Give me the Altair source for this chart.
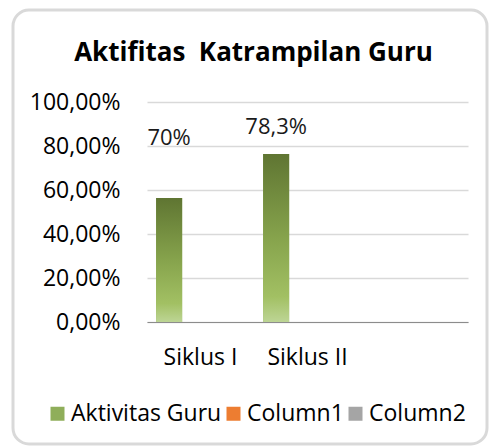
import altair as alt
import pandas as pd

# ---- data ----
categories = ["Siklus I", "Siklus II", " "]
series = ["Aktivitas Guru", "Column1", "Column2"]
series_colors = ["#8fae5a", "#ed7d31", "#a5a5a5"]
values = [0.564, 0.764]
label_text = ["70%", "78,3%"]
label_pos = [0.836, 0.886]
y_ticks = [0, 0.2, 0.4, 0.6, 0.8, 1.0]
title_text = "Aktifitas\u00a0 Katrampilan Guru"

df = pd.DataFrame({
    "kategori": categories[:2],
    "seri": [series[0]] * 2,
    "nilai": values,
    "label": label_text,
    "label_y": label_pos,
})

FONT = "Open Sans"

x_enc = alt.X(
    "kategori:N",
    scale=alt.Scale(domain=categories, paddingInner=0, paddingOuter=0),
    axis=alt.Axis(title=None, labelAngle=0, ticks=False, labelFontSize=23,
                  labelPadding=24, domainColor="#8c8c8c", domainWidth=1.2,
                  labelColor="#000000", labelFont=FONT, grid=False),
)
x_off = alt.XOffset("seri:N", scale=alt.Scale(domain=series, paddingInner=0.17, paddingOuter=0.29))
y_enc = alt.Y(
    "nilai:Q",
    scale=alt.Scale(domain=[0, 1]),
    axis=alt.Axis(title=None, values=y_ticks,
                  labelExpr="replace(format(datum.value, '.2%'), '.', ',')",
                  ticks=False, domain=False, gridColor="#d9d9d9", gridWidth=1.3,
                  labelFontSize=23, labelPadding=27, labelFont=FONT, labelColor="#000000"),
)

frame = alt.Chart(alt.Data(values=[{}])).mark_rect(
    filled=False, stroke="#d9d9d9", strokeWidth=3, cornerRadius=16
).encode(x=alt.value(-134), x2=alt.value(340), y=alt.value(-92), y2=alt.value(342))

bars_flat = alt.Chart(df).mark_bar().encode(
    x=x_enc, xOffset=x_off, y=y_enc,
    color=alt.Color("seri:N", scale=alt.Scale(domain=series, range=series_colors),
                    legend=alt.Legend(orient="none", legendX=-101, legendY=300,
                                      direction="horizontal", title=None,
                                      symbolType="square", symbolSize=196,
                                      symbolStrokeWidth=0, symbolOpacity=1,
                                      labelFontSize=23, labelFont=FONT,
                                      labelColor="#000000", labelOffset=2,
                                      columnPadding=-9)),
)

gradient = alt.Gradient(
    gradient="linear",
    stops=[
        alt.GradientStop(color="#5f7532", offset=0),
        alt.GradientStop(color="#86a34c", offset=0.5),
        alt.GradientStop(color="#a2c063", offset=0.85),
        alt.GradientStop(color="#bdd595", offset=1),
    ],
    x1=0, x2=0, y1=0, y2=1,
)

bars_grad = alt.Chart(df).mark_bar(color=gradient).encode(x=x_enc, xOffset=x_off, y=y_enc)

labels = alt.Chart(df).mark_text(
    font=FONT, fontSize=22, color="#1a1a1a", baseline="middle", align="center"
).encode(x=x_enc, xOffset=x_off, y=alt.Y("label_y:Q"), text="label:N")

chart = alt.layer(frame, bars_flat, bars_grad, labels).properties(
    width=321, height=220,
    padding={"left": 147, "top": 102, "right": 23, "bottom": 126},
    autosize=alt.AutoSizeParams(type="none"),
    title=alt.Title(title_text, fontSize=26, font=FONT, fontWeight="bold",
                    anchor="middle", dx=-54, offset=-57, color="#000000"),
    background="white",
).configure_view(stroke=None)

chart.save("out.html", embed_options={"renderer": "svg", "actions": False})
